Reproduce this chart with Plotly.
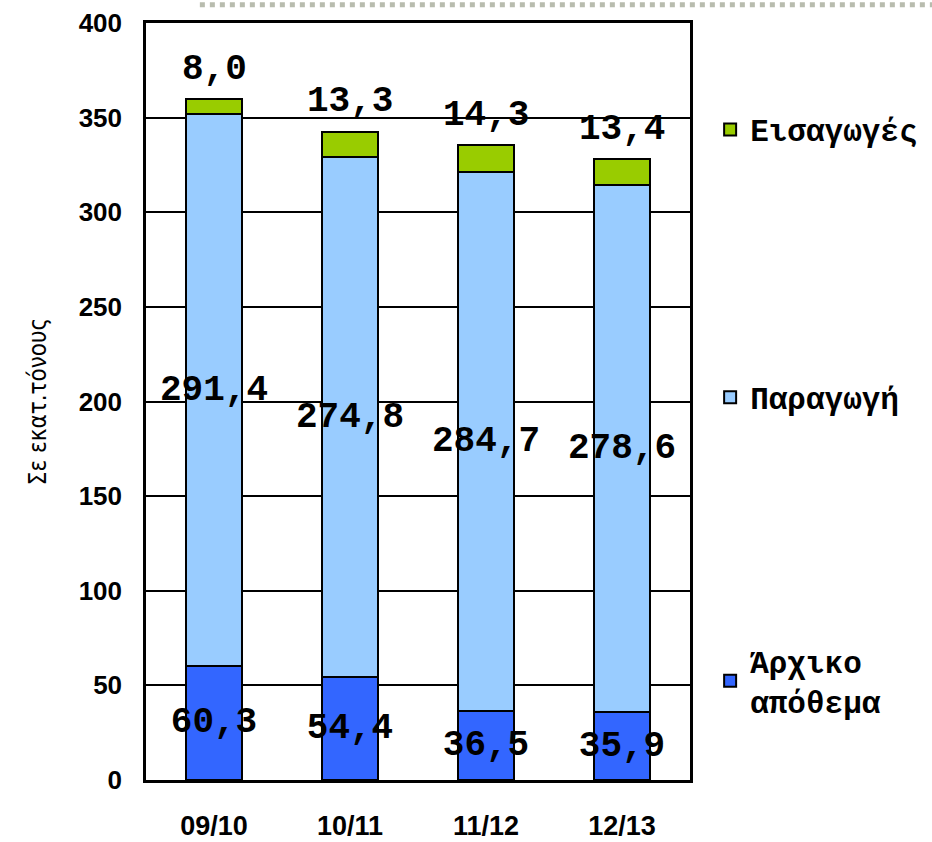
import plotly.graph_objects as go

categories = ["09/10", "10/11", "11/12", "12/13"]
initial_stock = [60.3, 54.4, 36.5, 35.9]
production = [291.4, 274.8, 284.7, 278.6]
imports = [8.0, 13.3, 14.3, 13.4]
y_ticks = [0, 50, 100, 150, 200, 250, 300, 350, 400]

series_names = ["Άρχικο<br>απόθεμα", "Παραγωγή", "Εισαγωγές"]
colors = ["#3366FF", "#99CCFF", "#99CC00"]

def fmt(v):
    return f"{v:.1f}".replace(".", ",")

label_font = dict(family="Liberation Mono, Courier New, monospace", size=36, color="black", weight="bold")
legend_font = dict(family="Liberation Mono, Courier New, monospace", size=31, color="black", weight="bold")

fig = go.Figure()
data_series = [initial_stock, production, imports]
legends = ["legend3", "legend2", "legend"]
for i, (vals, name, col, lg) in enumerate(zip(data_series, series_names, colors, legends)):
    fig.add_trace(go.Bar(
        x=categories, y=vals, name=name, legend=lg,
        marker=dict(color=col, line=dict(color="black", width=2)),
        text=[fmt(v) for v in vals] if i < 2 else None,
        textposition="inside" if i < 2 else "none",
        insidetextanchor="middle",
        textangle=0,
        constraintext="none",
        textfont=label_font, insidetextfont=label_font,
        cliponaxis=False,
    ))

totals = [a + b + c for a, b, c in zip(initial_stock, production, imports)]
for cat, tot, v in zip(categories, totals, imports):
    fig.add_annotation(x=cat, y=tot, text=fmt(v), showarrow=False,
                       yanchor="middle", yshift=30, font=label_font)

fig.add_shape(type="line", xref="paper", yref="paper", x0=0.099, x1=1.45, y0=1.024, y1=1.024,
              line=dict(color="#b8bcae", width=5, dash="dot"))

leg_common = dict(xanchor="left", yanchor="middle", font=legend_font,
                  bgcolor="rgba(0,0,0,0)", borderwidth=0, itemwidth=30)
fig.update_layout(
    width=932, height=842,
    margin=dict(l=146, r=242, t=23, b=62, autoexpand=False),
    paper_bgcolor="white", plot_bgcolor="white",
    barmode="stack", bargap=0.59,
    showlegend=True,
    legend=dict(x=1.037, y=0.859, **leg_common),
    legend2=dict(x=1.037, y=0.505, **leg_common),
    legend3=dict(x=1.037, y=0.131, **leg_common),
    xaxis=dict(
        automargin=False,
        showline=True, linecolor="black", linewidth=2.5, mirror=True,
        ticks="", ticklabelstandoff=20,
        tickfont=dict(family="Liberation Sans, Arial, sans-serif", size=27, color="black", weight="bold"),
    ),
    yaxis=dict(
        automargin=False,
        range=[0, 400], tickvals=y_ticks,
        showline=True, linecolor="black", linewidth=2.5, mirror=True,
        showgrid=True, gridcolor="black", gridwidth=1.5,
        ticks="", ticklabelstandoff=16, zeroline=False,
        tickfont=dict(family="Liberation Sans, Arial, sans-serif", size=26, color="black", weight="bold"),
        title=dict(text="Σε εκατ.τόνους", standoff=26,
                   font=dict(family="DejaVu Sans Condensed, DejaVu Sans, sans-serif", size=24, color="black")),
    ),
)

fig.write_html("out.html", config={"displayModeBar": False},
               post_script="document.body.style.margin='0px';")
